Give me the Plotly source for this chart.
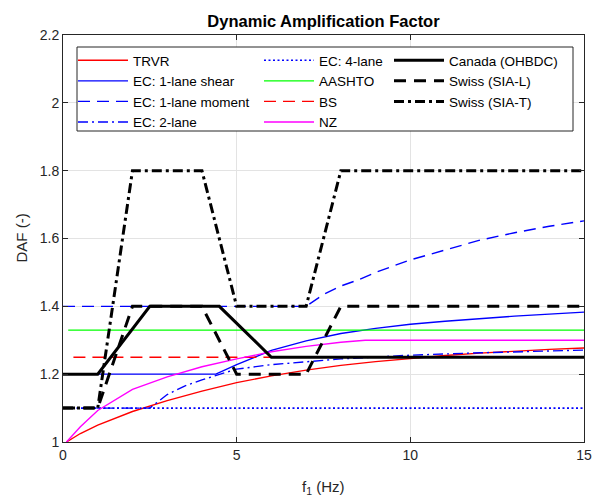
import plotly.graph_objects as go

# ---- data ----
trvr_x = [0.1, 0.5, 1, 2, 3, 4, 5, 6, 7, 8, 9, 10, 11, 12, 13, 14, 15]
trvr_y = [1.0, 1.025, 1.05, 1.09, 1.122, 1.15, 1.175, 1.195, 1.212, 1.226, 1.237, 1.247, 1.255, 1.262, 1.268, 1.273, 1.277]

ec_shear_x = [0, 4.4, 5, 5.5, 6, 7, 8, 9, 10, 11, 12, 13, 14, 15]
ec_shear_y = [1.2, 1.2, 1.228, 1.25, 1.27, 1.298, 1.32, 1.335, 1.347, 1.356, 1.364, 1.371, 1.377, 1.383]

ec_moment_x = [0, 7, 7.5, 8, 8.5, 9, 10, 11, 12, 13, 14, 15]
ec_moment_y = [1.4, 1.4, 1.435, 1.46, 1.478, 1.5, 1.537, 1.567, 1.595, 1.617, 1.636, 1.652]

ec_2lane_x = [0, 2.5, 3, 3.5, 4, 4.5, 5, 6, 7, 8, 10, 12, 15]
ec_2lane_y = [1.1, 1.1, 1.14, 1.165, 1.183, 1.198, 1.215, 1.228, 1.237, 1.245, 1.256, 1.263, 1.271]

ec_4lane_x = [0, 15]
ec_4lane_y = [1.1, 1.1]

aashto_x = [0.15, 15]
aashto_y = [1.33, 1.33]

bs_x = [0.3, 15]
bs_y = [1.25, 1.25]

nz_x = [0.1, 0.5, 1, 1.5, 2, 3, 4, 5, 6, 7, 8, 8.7, 15]
nz_y = [1.0, 1.045, 1.093, 1.125, 1.155, 1.192, 1.222, 1.245, 1.266, 1.282, 1.294, 1.3, 1.3]

canada_x = [0, 1, 2.5, 4.5, 6, 15]
canada_y = [1.2, 1.2, 1.4, 1.4, 1.25, 1.25]

sial_x = [0, 1, 2, 4, 5, 7, 8, 15]
sial_y = [1.1, 1.1, 1.4, 1.4, 1.2, 1.2, 1.4, 1.4]

siat_x = [0, 1, 2, 4, 5, 7, 8, 15]
siat_y = [1.1, 1.1, 1.8, 1.8, 1.4, 1.4, 1.8, 1.8]

x_ticks = [0, 5, 10, 15]
y_ticks = [1, 1.2, 1.4, 1.6, 1.8, 2, 2.2]

FONT = "Liberation Sans, Arial, sans-serif"

series = [
    ("TRVR", trvr_x, trvr_y, "#FF0000", 1.4, "solid", "legend"),
    ("EC: 1-lane shear", ec_shear_x, ec_shear_y, "#0000FF", 1.4, "solid", "legend"),
    ("EC: 1-lane moment", ec_moment_x, ec_moment_y, "#0000FF", 1.4, "12px,7px", "legend"),
    ("EC: 2-lane", ec_2lane_x, ec_2lane_y, "#0000FF", 1.4, "10px,4px,2px,4px", "legend"),
    ("EC: 4-lane", ec_4lane_x, ec_4lane_y, "#0000FF", 1.6, "2px,2.5px", "legend2"),
    ("AASHTO", aashto_x, aashto_y, "#00FF00", 1.4, "solid", "legend2"),
    ("BS", bs_x, bs_y, "#FF0000", 1.4, "12px,7px", "legend2"),
    ("NZ", nz_x, nz_y, "#FF00FF", 1.4, "solid", "legend2"),
    ("Canada (OHBDC)", canada_x, canada_y, "#000000", 3, "solid", "legend3"),
    ("Swiss (SIA-L)", sial_x, sial_y, "#000000", 3, "12px,8px", "legend3"),
    ("Swiss (SIA-T)", siat_x, siat_y, "#000000", 3, "10px,4px,3px,4px", "legend3"),
]

fig = go.Figure()
for name, xs, ys, col, w, dash, lg in series:
    fig.add_trace(go.Scatter(x=xs, y=ys, mode="lines", name=name,
                             line=dict(color=col, width=w, dash=dash),
                             legend=lg))

L, R, T, B = 63, 12, 35, 55
PW = 596 - L - R
PH = 497 - T - B


def px_x(p):
    return (p - L) / PW


def px_y(p):
    return (497 - B - p) / PH


leg_common = dict(bgcolor="rgba(0,0,0,0)", borderwidth=0,
                  font=dict(family=FONT, size=13.5, color="#000000"),
                  xanchor="left", yanchor="top", tracegroupgap=0,
                  itemwidth=50)

fig.update_layout(
    width=596, height=497,
    margin=dict(l=L, r=R, t=T, b=B),
    paper_bgcolor="white", plot_bgcolor="white",
    font=dict(family=FONT, size=14, color="#262626"),
    title=dict(text="<b>Dynamic Amplification Factor</b>", x=0.5, xref="paper",
               y=1 - 21 / 497, yref="container", yanchor="middle",
               font=dict(family=FONT, size=16.5, color="#000000")),
    legend=dict(x=px_x(73), y=px_y(45), **leg_common),
    legend2=dict(x=px_x(259), y=px_y(45), **leg_common),
    legend3=dict(x=px_x(389), y=px_y(45), **leg_common),
    shapes=[dict(type="rect", xref="paper", yref="paper",
                 x0=px_x(77), x1=px_x(573), y0=px_y(131), y1=px_y(47),
                 fillcolor="white", line=dict(color="#262626", width=1),
                 layer="above")],
    annotations=[
        dict(text="f<sub>1</sub> (Hz)", xref="paper", yref="paper",
             x=0.5, y=px_y(487), xanchor="center", yanchor="middle",
             showarrow=False, font=dict(family=FONT, size=15, color="#262626")),
        dict(text="DAF (-)", xref="paper", yref="paper",
             x=px_x(21), y=0.5, xanchor="center", yanchor="middle",
             textangle=-90, showarrow=False,
             font=dict(family=FONT, size=15, color="#262626")),
    ],
)

fig.update_xaxes(range=[0, 15], tickvals=x_ticks, showgrid=True, gridcolor="#E3E3E3",
                 gridwidth=1, zeroline=False, showline=True, linecolor="#262626",
                 linewidth=1, mirror="ticks", ticks="inside", ticklen=5,
                 tickcolor="#262626", automargin=False,
                 tickfont=dict(family=FONT, size=14, color="#262626"))
fig.update_yaxes(range=[1, 2.2], tickvals=y_ticks, showgrid=True, gridcolor="#E3E3E3",
                 gridwidth=1, zeroline=False, showline=True, linecolor="#262626",
                 linewidth=1, mirror="ticks", ticks="inside", ticklen=5,
                 tickcolor="#262626", automargin=False,
                 tickfont=dict(family=FONT, size=14, color="#262626"))

fig.write_html("out.html", config={"displayModeBar": False},
               post_script="document.body.style.margin='0';document.body.style.padding='0';")
